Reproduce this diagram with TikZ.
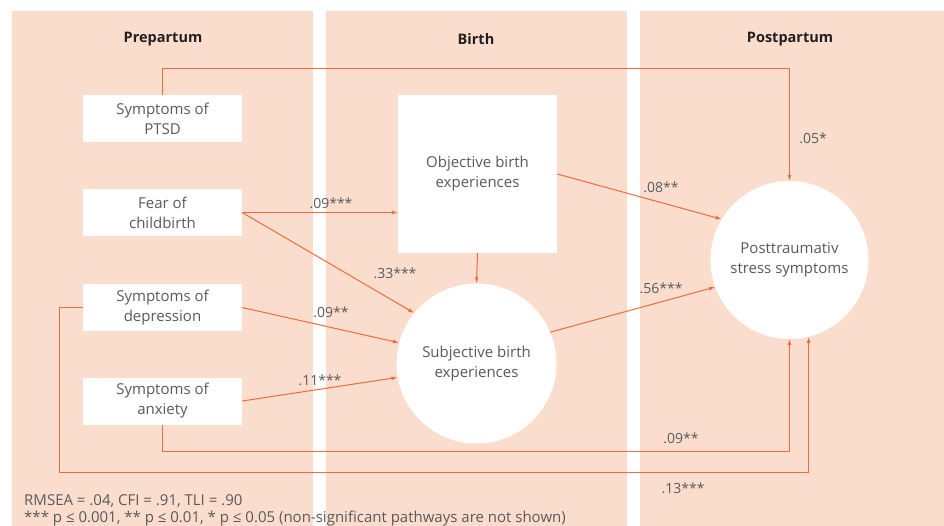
\documentclass[tikz,border=0pt]{standalone}
\usepackage{fontspec}
\setmainfont{Open Sans}
\usetikzlibrary{arrows.meta,calc}
\definecolor{peach}{HTML}{FBDDCD}
\definecolor{lineor}{HTML}{F26B3C}
\definecolor{txtgrey}{HTML}{5A5A5C}
\definecolor{headc}{HTML}{231F20}
\tikzset{
  panel/.style={fill=peach,draw=none},
  heading/.style={font=\fontsize{14.5}{16}\selectfont\bfseries,text=headc},
  varbox/.style={rectangle,fill=white,draw=none,minimum width=159pt,minimum height=47pt,align=center,font=\fontsize{15}{20}\selectfont,text=txtgrey,inner sep=0pt},
  varcirc/.style={circle,fill=white,draw=none,align=center,font=\fontsize{15}{20}\selectfont,text=txtgrey,inner sep=0pt},
  coef/.style={font=\fontsize{14}{16}\selectfont,text=txtgrey,inner sep=0pt},
  foot/.style={font=\fontsize{15}{16}\selectfont,text=txtgrey,inner sep=0pt,anchor=west},
  arr/.style={draw=lineor,line width=1pt,-{Latex[length=6pt,width=4pt]}},
}
\begin{document}
\begin{tikzpicture}[x=1pt,y=-1pt]
\useasboundingbox (0,0) rectangle (944,526);
\fill[white] (0,0) rectangle (944,526);
% panels
\fill[panel] (12,11) rectangle (313,526);
\fill[panel] (326,11) rectangle (627,526);
\fill[panel] (640,11) rectangle (944,526);
% headings
\node[heading] (h1) at (163,39) {Prepartum};
\node[heading] (h2) at (476,39) {Birth};
\node[heading] (h3) at (790,39) {Postpartum};
% nodes
\node[varbox] (ptsd) at (162.5,118.5) {Symptoms of\\PTSD};
\node[varbox] (fear) at (162.5,212.5) {Fear of\\childbirth};
\node[varbox] (dep) at (162.5,307.5) {Symptoms of\\depression};
\node[varbox] (anx) at (162.5,401) {Symptoms of\\anxiety};
\node[varbox,minimum height=158pt] (obj) at (477.5,174) {Objective birth\\experiences};
\node[varcirc,minimum size=160pt] (subj) at (476.5,363.5) {Subjective birth\\experiences};
\node[varcirc,minimum size=158pt] (pts) at (789.5,260) {Posttraumativ\\stress symptoms};
% coordinates for routed connectors
\coordinate (p1) at (162.5,69);
\coordinate (a1) at (162.5,451);
\coordinate (d1) at (59,472);
% connectors
\draw[arr] (ptsd.north) -- (p1) -| (pts.north);
\draw[arr] (fear.east) -- (obj.west |- fear.east);
\draw[arr] (fear.east) -- (subj.141);
\draw[arr] (dep.east) -- (subj.165);
\draw[arr] (anx.east) -- (subj.190);
\draw[arr] (obj.south) -- (subj.north);
\draw[arr] (obj.east) -- (pts.149);
\draw[arr] (subj.23) -- (pts.200);
\draw[arr] (anx.south) -- (a1) -| (pts.south);
\draw[arr] (dep.west) -| (d1) -| (pts.-76);
% coefficients
\node[coef] (c1) at (813,138) {.05*};
\node[coef] (c2) at (331,203) {.09***};
\node[coef] (c3) at (395,273) {.33***};
\node[coef] (c4) at (331,312) {.09**};
\node[coef] (c5) at (320,380) {.11***};
\node[coef] (c6) at (661,187) {.08**};
\node[coef] (c7) at (661,288) {.56***};
\node[coef] (c8) at (681,438) {.09**};
\node[coef] (c9) at (683,488) {.13***};
% footer
\node[foot] (f1) at (24,501) {RMSEA = .04, CFI = .91, TLI = .90};
\node[foot] (f2) at (24,519) {*** p ≤ 0.001, ** p ≤ 0.01, * p ≤ 0.05 (non-significant pathways are not shown)};
\end{tikzpicture}
\end{document}
